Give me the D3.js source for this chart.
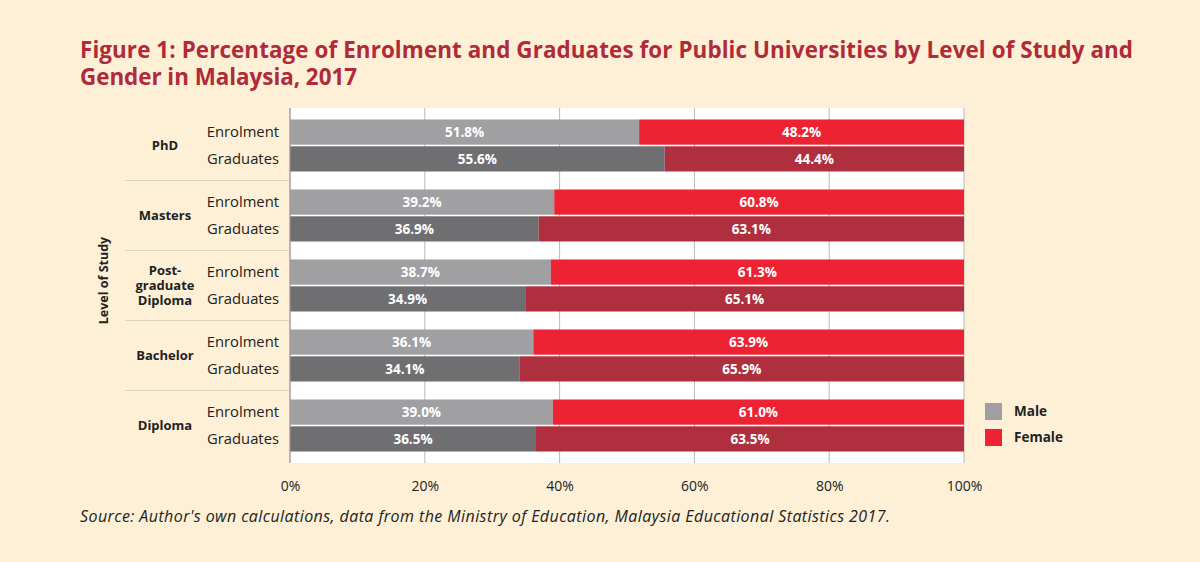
<!DOCTYPE html>
<html><head><meta charset="utf-8">
<script src="https://cdn.jsdelivr.net/npm/d3@7"></script>
<style>
html,body{margin:0;padding:0;background:#fdf0d6;}
svg{display:block;}
</style></head>
<body>
<svg id="chart" width="1200" height="562"></svg>
<script>
const levels = ["PhD", "Masters", "Post-graduate Diploma", "Bachelor", "Diploma"];
const levelLines = [["PhD"], ["Masters"], ["Post-", "graduate", "Diploma"], ["Bachelor"], ["Diploma"]];
const types = ["Enrolment", "Graduates"];
const maleEnrolment = [51.8, 39.2, 38.7, 36.1, 39.0];
const femaleEnrolment = [48.2, 60.8, 61.3, 63.9, 61.0];
const maleGraduates = [55.6, 36.9, 34.9, 34.1, 36.5];
const femaleGraduates = [44.4, 63.1, 65.1, 65.9, 63.5];
const xTicks = [0, 20, 40, 60, 80, 100];
const genders = ["Male", "Female"];

(function () {
const colors = {
  Male: {Enrolment: "#a0a0a3", Graduates: "#6f6f72"},
  Female: {Enrolment: "#ed2233", Graduates: "#b02f3e"}
};

const svg = d3.select("#chart");
const font = "'Open Sans', sans-serif";

svg.append("text").attr("x", 80).attr("y", 58)
  .attr("font-family", font).attr("font-weight", 700).attr("font-size", 22.4)
  .attr("fill", "#b02a3a").attr("textLength", 1053).attr("lengthAdjust", "spacing")
  .text("Figure 1: Percentage of Enrolment and Graduates for Public Universities by Level of Study and");
svg.append("text").attr("x", 80).attr("y", 85)
  .attr("font-family", font).attr("font-weight", 700).attr("font-size", 22.4)
  .attr("fill", "#b02a3a").attr("textLength", 277).attr("lengthAdjust", "spacing")
  .text("Gender in Malaysia, 2017");

const pL = 290, pR = 964, pT = 108, pB = 463;
const x = d3.scaleLinear().domain([0, 100]).range([pL, pR]);
const y0 = d3.scaleBand().domain(levels).range([pT, pB]).paddingInner(0.257).paddingOuter(0.164);
const y1 = d3.scaleBand().domain(types).range([0, y0.bandwidth()]).paddingInner(0.06);

svg.append("rect").attr("x", pL).attr("y", pT).attr("width", pR - pL).attr("height", pB - pT).attr("fill", "#ffffff");

svg.append("g").selectAll("line").data(xTicks).join("line")
  .attr("x1", d => x(d)).attr("x2", d => x(d)).attr("y1", pT).attr("y2", pB)
  .attr("stroke", "#b8b8b8").attr("stroke-width", 1);

const sepY = levels.slice(1).map((l, i) => (y0(levels[i]) + y0.bandwidth() + y0(l)) / 2);
svg.append("g").selectAll("line").data(sepY).join("line")
  .attr("x1", 125).attr("x2", pL).attr("y1", d => d).attr("y2", d => d)
  .attr("stroke", "#d9d3c2").attr("stroke-width", 1);

const rows = [];
levels.forEach((lv, i) => {
  rows.push({level: lv, type: "Enrolment", Male: maleEnrolment[i], Female: femaleEnrolment[i]});
  rows.push({level: lv, type: "Graduates", Male: maleGraduates[i], Female: femaleGraduates[i]});
});
const segs = [];
rows.forEach(r => {
  let acc = 0;
  genders.forEach(g => {
    segs.push({level: r.level, type: r.type, gender: g, x0: acc, x1: acc + r[g], v: r[g]});
    acc += r[g];
  });
});

const gBars = svg.append("g");
gBars.selectAll("rect").data(segs).join("rect")
  .attr("x", d => x(d.x0)).attr("width", d => x(d.x1) - x(d.x0))
  .attr("y", d => y0(d.level) + y1(d.type)).attr("height", y1.bandwidth())
  .attr("fill", d => colors[d.gender][d.type]);
gBars.selectAll("text").data(segs).join("text")
  .attr("x", d => (x(d.x0) + x(d.x1)) / 2)
  .attr("y", d => y0(d.level) + y1(d.type) + y1.bandwidth() / 2)
  .attr("dy", "0.36em").attr("text-anchor", "middle")
  .attr("font-family", font).attr("font-weight", 700).attr("font-size", 13.5)
  .attr("fill", "#ffffff")
  .text(d => d.v.toFixed(1) + "%");

svg.append("line").attr("x1", pL).attr("x2", pL).attr("y1", pT).attr("y2", pB).attr("stroke", "#999").attr("stroke-width", 1);

svg.append("g").selectAll("text").data(rows).join("text")
  .attr("x", 279).attr("y", d => y0(d.level) + y1(d.type) + y1.bandwidth() / 2)
  .attr("dy", "0.36em").attr("text-anchor", "end")
  .attr("font-family", font).attr("font-size", 14.8).attr("fill", "#222")
  .text(d => d.type);

levels.forEach((lv, i) => {
  const lines = levelLines[i];
  const cy = y0(lv) + y0.bandwidth() / 2;
  const lh = 15;
  svg.append("text").attr("x", 165).attr("text-anchor", "middle")
    .attr("font-family", font).attr("font-weight", 700).attr("font-size", 13).attr("fill", "#222")
    .selectAll("tspan").data(lines).join("tspan")
    .attr("x", 165).attr("y", (d, j) => cy + (j - (lines.length - 1) / 2) * lh).attr("dy", "0.36em")
    .text(d => d);
});

svg.append("text").attr("transform", `translate(108,${(pT + pB) / 2 - 5}) rotate(-90)`)
  .attr("text-anchor", "middle").attr("font-family", font).attr("font-weight", 700)
  .attr("font-size", 12.5).attr("fill", "#222").text("Level of Study");

const xAxis = d3.axisBottom(x).tickValues(xTicks).tickFormat(d => d + "%").tickSize(0).tickPadding(0);
const gx = svg.append("g").attr("transform", `translate(0,${pB})`).call(xAxis);
gx.select(".domain").remove();
gx.selectAll("text").attr("y", 18).attr("dy", "0.71em").attr("font-family", font).attr("font-size", 14).attr("fill", "#222");

const lg = svg.append("g").attr("transform", "translate(985,403)");
genders.forEach((g, i) => {
  lg.append("rect").attr("x", 0).attr("y", i * 26).attr("width", 17).attr("height", 17).attr("fill", colors[g].Enrolment);
  lg.append("text").attr("x", 29).attr("y", i * 26 + 8.5).attr("dy", "0.36em")
    .attr("font-family", font).attr("font-weight", 700).attr("font-size", 13.5).attr("fill", "#222").text(g);
});

svg.append("text").attr("x", 80).attr("y", 522)
  .attr("font-family", font).attr("font-style", "italic").attr("font-size", 16).attr("fill", "#222")
  .attr("textLength", 810).attr("lengthAdjust", "spacing")
  .text("Source: Author's own calculations, data from the Ministry of Education, Malaysia Educational Statistics 2017.");
})();
</script>
</body></html>
